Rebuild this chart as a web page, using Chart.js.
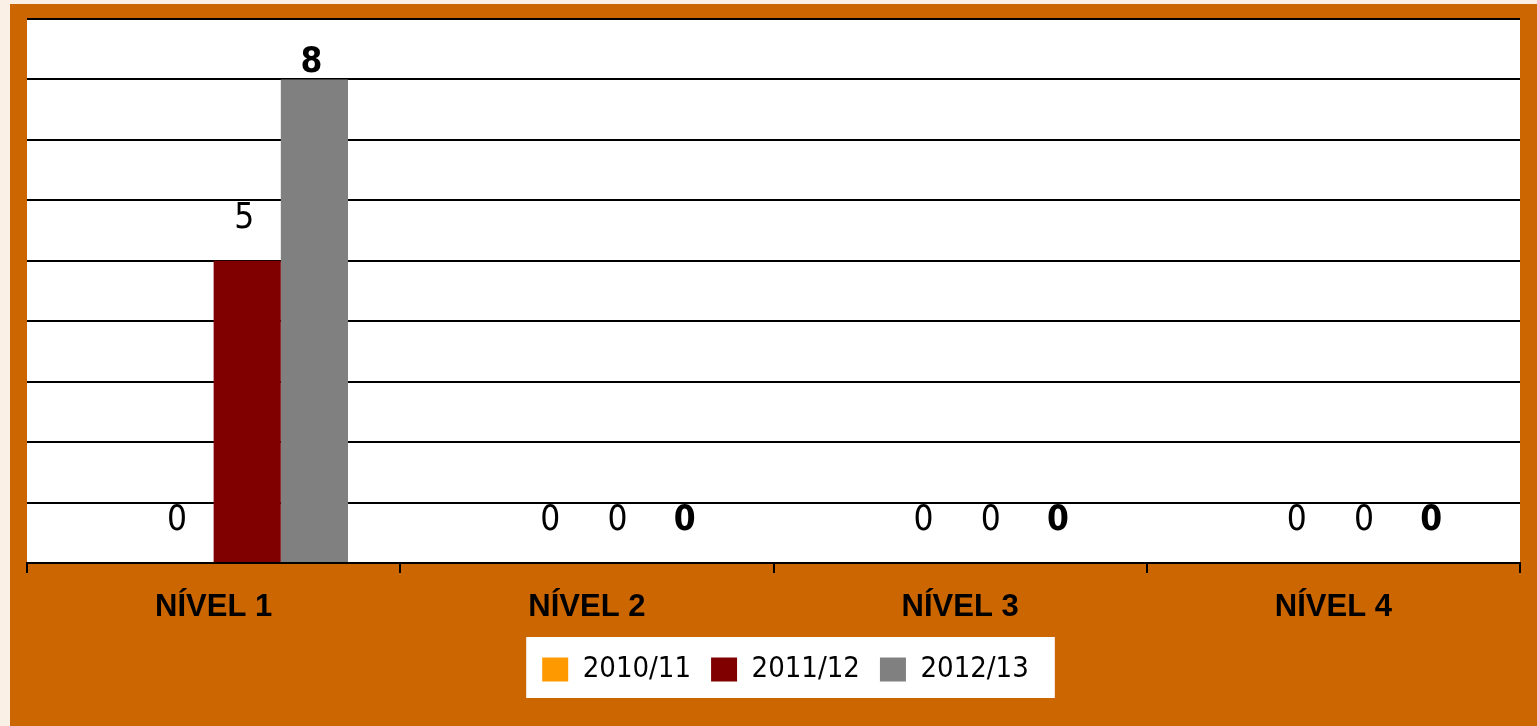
<!DOCTYPE html>
<html>
<head>
<meta charset="utf-8">
<script src="https://cdn.jsdelivr.net/npm/chart.js@4.4.0/dist/chart.umd.min.js"></script>
<style>
  html, body { margin: 0; padding: 0; background: #fbf0e6; overflow: hidden; }
  #wrap { position: absolute; left: 10px; top: 4px; width: 1527px; height: 722px; background: #cc6600; }
</style>
</head>
<body>
<div id="wrap"><canvas id="chart" width="1527" height="722"></canvas></div>
<script>
const levels = ['NÍVEL 1', 'NÍVEL 2', 'NÍVEL 3', 'NÍVEL 4'];
const years = ['2010/11', '2011/12', '2012/13'];
const values2010 = [0, 0, 0, 0];
const values2011 = [5, 0, 0, 0];
const values2012 = [8, 0, 0, 0];
const colors = ['#ff9900', '#800000', '#808080'];
const yMax = 9;

const condensed = '"Liberation Sans Narrow", "DejaVu Sans Condensed", sans-serif';
const legendShift = 12;

// white plot area and white legend box
const backdrop = {
    id: 'backdrop',
    afterLayout(chart) {
        // legend sits a little right of centre in the original
        chart.legend.left += legendShift;
        chart.legend.right += legendShift;
    },
    beforeDraw(chart) {
        const ctx = chart.ctx;
        const a = chart.chartArea;
        ctx.save();
        ctx.fillStyle = '#ffffff';
        ctx.fillRect(a.left, a.top, a.right - a.left, a.bottom - a.top);
        const boxes = chart.legend.legendHitBoxes;
        if (boxes && boxes.length) {
            let l = Infinity, r = -Infinity, t = Infinity, b = -Infinity;
            boxes.forEach(h => {
                l = Math.min(l, h.left); r = Math.max(r, h.left + h.width);
                t = Math.min(t, h.top); b = Math.max(b, h.top + h.height);
            });
            ctx.fillRect(l - 16, t - 18, r - l + 42, b - t + 32);
        }
        ctx.restore();
    }
};

// value labels above each bar
const valueLabels = {
    id: 'valueLabels',
    afterDatasetsDraw(chart) {
        const ctx = chart.ctx;
        ctx.save();
        ctx.fillStyle = '#000';
        ctx.textAlign = 'center';
        ctx.textBaseline = 'middle';
        chart.data.datasets.forEach((ds, i) => {
            if (ds.spacer) return;
            const meta = chart.getDatasetMeta(i);
            ctx.font = (ds.boldLabel ? 'bold ' : '') + '35px ' + condensed;
            meta.data.forEach((bar, j) => {
                const y = Math.max(bar.y - 42, chart.chartArea.top + 44);
                ctx.fillText(String(ds.data[j]), bar.x - 3, y);
            });
        });
        ctx.restore();
    }
};

new Chart(document.getElementById('chart'), {
    type: 'bar',
    data: {
        labels: levels,
        datasets: [
            { label: '', data: [null, null, null, null], spacer: true, backgroundColor: 'rgba(0,0,0,0)' },
            { label: years[0], data: values2010, backgroundColor: colors[0] },
            { label: years[1], data: values2011, backgroundColor: colors[1] },
            { label: years[2], data: values2012, backgroundColor: colors[2], boldLabel: true }
        ]
    },
    options: {
        responsive: false,
        animation: false,
        categoryPercentage: 0.72,
        barPercentage: 1,
        layout: { padding: { left: 17, right: 17, top: 15, bottom: 32 } },
        plugins: {
            tooltip: { enabled: false },
            legend: {
                position: 'bottom',
                labels: {
                    filter: item => item.text !== '',
                    boxWidth: 26,
                    boxHeight: 24,
                    padding: 20,
                    color: '#000',
                    font: { family: condensed, size: 29 }
                }
            }
        },
        scales: {
            x: {
                afterFit(scale) { scale.height = 72; },
                grid: { drawOnChartArea: false, drawTicks: true, tickLength: 10, color: '#000', lineWidth: 2 },
                border: { display: true, color: '#000', width: 2 },
                ticks: { color: '#000', padding: 16, font: { family: '"Liberation Sans", Arial, sans-serif', weight: 'bold', size: 31 } }
            },
            y: {
                min: 0,
                max: yMax,
                ticks: { display: false, stepSize: 1 },
                border: { display: false },
                grid: { color: '#000', lineWidth: 2, drawTicks: false }
            }
        }
    },
    plugins: [backdrop, valueLabels]
});
</script>
</body>
</html>
